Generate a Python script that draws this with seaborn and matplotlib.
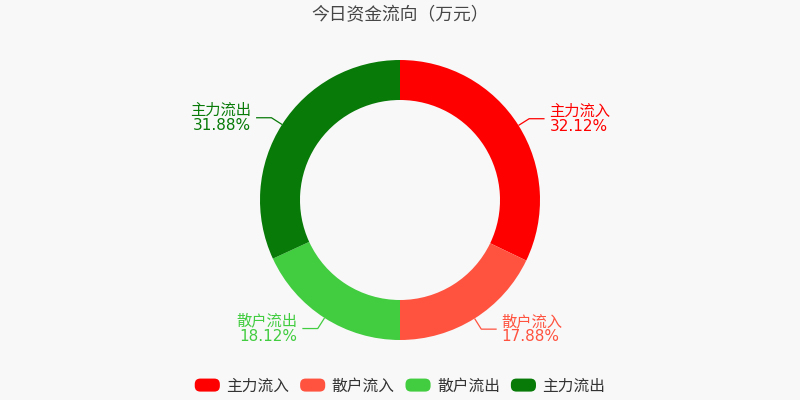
import numpy as np
import matplotlib
matplotlib.use("Agg")
import matplotlib.pyplot as plt
import seaborn as sns
from matplotlib.patches import FancyBboxPatch
from matplotlib.legend_handler import HandlerPatch

# ==============================
# data
# ==============================
labels = ["主力流入", "散户流入", "散户流出", "主力流出"]
shares = [32.12, 17.88, 18.12, 31.88]
colors = ["#ff0000", "#ff5340", "#42cc40", "#077a07"]
title = "今日资金流向（万元）"

sns.set_theme(style="white")
plt.rcParams['font.family'] = ['DejaVu Sans', 'Noto Sans CJK SC']

BG = "#f8f8f8"
R_PX = 140  # outer radius in pixels

fig = plt.figure(figsize=(8, 4), dpi=100, facecolor=BG)
ax = fig.add_axes([0, 0, 1, 1])
ax.set_facecolor(BG)

palette = sns.color_palette(colors)
wedges, _ = ax.pie(shares, colors=palette, startangle=90, counterclock=False,
                   radius=1, wedgeprops=dict(width=40 / R_PX, linewidth=0))

ax.set_xlim(-400 / R_PX, 400 / R_PX)
ax.set_ylim(-200 / R_PX, 200 / R_PX)
ax.set_aspect('equal')
ax.axis('off')

# labels with elbow leader lines
total = sum(shares)
start = 90.0
for lab, val, col in zip(labels, shares, palette):
    span = val / total * 360
    mid = np.deg2rad(start - span / 2)
    start -= span
    x0, y0 = np.cos(mid), np.sin(mid)
    x1, y1 = 1.09 * x0, 1.09 * y0
    side = 1 if x0 > 0 else -1
    x2 = x1 + side * 0.11
    ax.plot([x0, x1, x2], [y0, y1, y1], color=col, lw=0.9, solid_capstyle='butt')
    ax.text(x2 + side * 0.035, y1, f"{lab}\n{val:.2f}%", color=col,
            fontsize=11.0, ha='left' if side > 0 else 'right', va='center',
            linespacing=1.05, multialignment='right' if side < 0 else 'left')

fig.text(0.5, 1 - 15 / 400, title, ha='center', va='center',
         fontsize=12.8, color='#464646')


# rounded legend markers
class RoundBox(HandlerPatch):
    def create_artists(self, legend, orig_handle, xdescent, ydescent,
                       width, height, fontsize, trans):
        p = FancyBboxPatch((-xdescent + 2, -ydescent + 2), width - 4, height - 4,
                           boxstyle="round,pad=2,rounding_size=4",
                           facecolor=orig_handle.get_facecolor(), edgecolor='none',
                           transform=trans)
        return [p]


leg = fig.legend(wedges, labels, loc='center', bbox_to_anchor=(0.5, 1 - 386 / 400),
                 ncol=4, frameon=False, fontsize=11.3,
                 handler_map={w: RoundBox() for w in wedges},
                 handlelength=1.6, handleheight=0.9, handletextpad=0.4,
                 columnspacing=0.7, labelcolor='#333333')

plt.savefig("out.png", dpi=100, facecolor=BG)
